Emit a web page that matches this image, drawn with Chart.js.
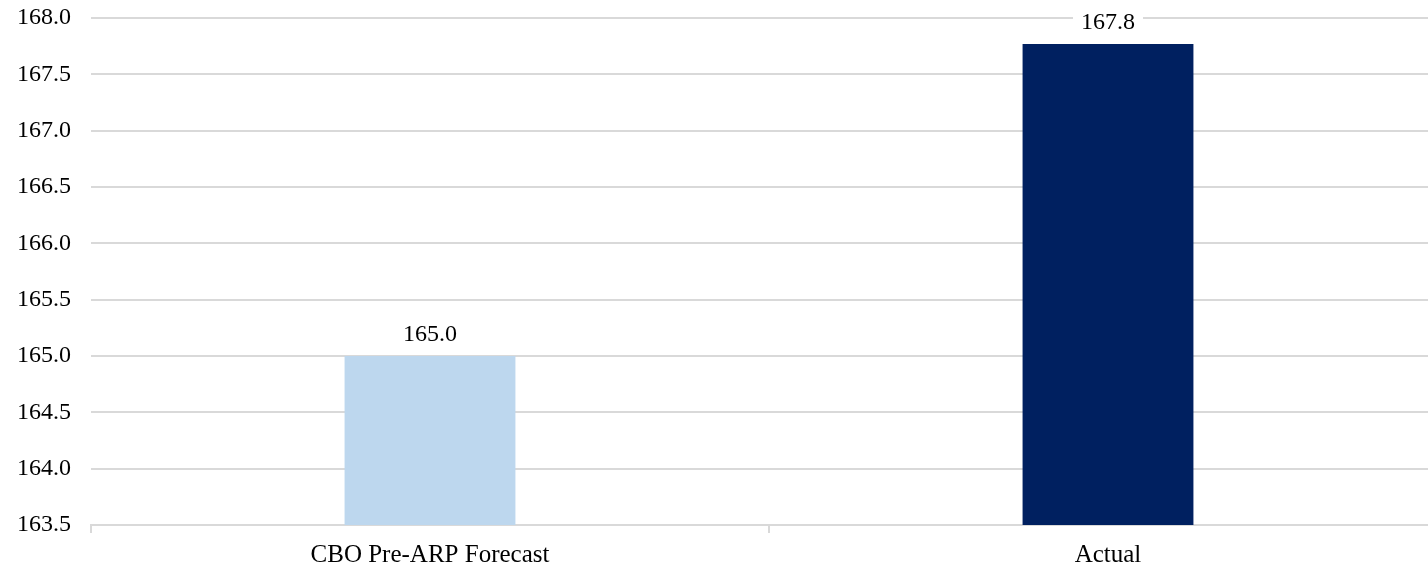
<!DOCTYPE html>
<html>
<head>
<meta charset="utf-8">
<script src="https://cdn.jsdelivr.net/npm/chart.js@4/dist/chart.umd.min.js"></script>
<style>
  html, body { margin: 0; padding: 0; background: #fff; overflow: hidden; }
  /* the plot runs a little past the right edge of the page */
  #wrap { width: 1428px; height: 568px; overflow: hidden; }
</style>
</head>
<body>
<div id="wrap"><canvas id="barChart" width="1447" height="568"></canvas></div>
<script>
// Chart data
const categories = ["CBO Pre-ARP Forecast", "Actual"];
const values = [165.0, 167.77];
const barColors = ["#bdd7ee", "#002060"];
const yMin = 163.5;
const yMax = 168.0;
const yStep = 0.5;

const serif = "'Liberation Serif', 'Times New Roman', serif";

// Value labels on top of each bar, with a white box behind so gridlines don't run through
const valueLabels = {
    id: "valueLabels",
    afterDatasetsDraw(chart) {
        const ctx = chart.ctx;
        const meta = chart.getDatasetMeta(0);
        ctx.save();
        ctx.font = "24px " + serif;
        ctx.textAlign = "center";
        ctx.textBaseline = "alphabetic";
        meta.data.forEach((bar, i) => {
            const text = values[i].toFixed(1);
            const w = ctx.measureText(text).width;
            const base = bar.y - 15;
            ctx.fillStyle = "#fff";
            ctx.fillRect(bar.x - w / 2 - 8, base - 20, w + 16, 24);
            ctx.fillStyle = "#000";
            ctx.fillText(text, bar.x, base);
        });
        ctx.restore();
    },
};

const ctx = document.getElementById("barChart").getContext("2d");
new Chart(ctx, {
    type: "bar",
    data: {
        labels: categories,
        datasets: [
            {
                data: values,
                backgroundColor: barColors,
                barPercentage: 1,
                categoryPercentage: 0.252,
            },
        ],
    },
    options: {
        responsive: false,
        animation: false,
        layout: { padding: { left: 17, top: 0, right: 0, bottom: 0 } },
        plugins: {
            legend: { display: false },
            tooltip: { enabled: false },
        },
        scales: {
            x: {
                grid: {
                    offset: true,
                    drawOnChartArea: false,
                    drawTicks: true,
                    // long tick length pushes the labels down; the dash keeps the visible mark short
                    tickLength: 17,
                    tickBorderDash: [7, 30],
                    color: "#d9d9d9",
                    lineWidth: 2,
                },
                border: { display: true, color: "#d9d9d9", width: 2 },
                ticks: {
                    color: "#000",
                    font: { family: serif, size: 25, lineHeight: 0.32 },
                    padding: 9,
                },
            },
            y: {
                min: yMin,
                max: yMax,
                afterFit: (scale) => { scale.width = 74; },
                grid: {
                    color: "#d9d9d9",
                    lineWidth: 2,
                    drawTicks: false,
                },
                border: { display: false },
                ticks: {
                    stepSize: yStep,
                    color: "#000",
                    font: { family: serif, size: 24, lineHeight: 1.5 },
                    padding: 0,
                    crossAlign: "far",
                    callback: (v) => Number(v).toFixed(1),
                },
            },
        },
    },
    plugins: [valueLabels],
});
</script>
</body>
</html>
